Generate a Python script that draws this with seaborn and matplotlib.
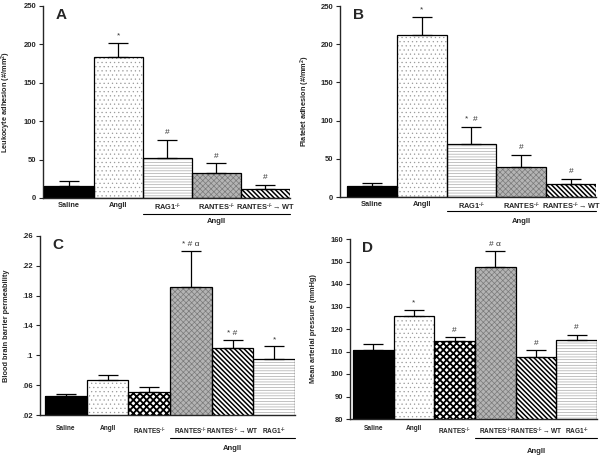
import matplotlib
matplotlib.use("Agg")
import matplotlib.pyplot as plt
import seaborn as sns
import numpy as np

KO = r"$^{\text{-/-}}$"

# Panel A / B categories
groups_ab = ["Saline", "AngII", "RAG1" + KO, "RANTES" + KO, "RANTES" + KO + r"$\rightarrow$WT"]
leuko_mean = [15, 183, 52, 33, 12]
leuko_sem = [7, 19, 24, 12, 5]
leuko_marks = ["", "*", "#", "#", "#"]
platelet_mean = [15, 212, 69, 39, 17]
platelet_sem = [3, 23, 23, 16, 7]
platelet_marks = ["", "*", "*  #", "#", "#"]

# Panel C / D categories
groups_cd = ["Saline", "AngII", "RANTES" + KO, "RANTES" + KO, "RANTES" + KO + r"$\rightarrow$WT", "RAG1" + KO]
bbb_mean = [0.045, 0.067, 0.051, 0.192, 0.110, 0.095]
bbb_sem = [0.003, 0.006, 0.007, 0.048, 0.011, 0.017]
bbb_marks = ["", "", "", "* # \u03b1", "* #", "*"]
map_mean = [110.5, 126, 114.5, 147.5, 107.5, 115]
map_sem = [3, 2.5, 2, 7, 3, 2.5]
map_marks = ["", "*", "#", "# \u03b1", "#", "#"]

# bar styles: (facecolor, hatch, hatch colour, hatch linewidth)
STYLE = {
    "saline": ("black", "", "black", 0.5),
    "angii": ("white", "....", "#9a9a9a", 0.4),
    "rag1": ("white", "------", "#a0a0a0", 0.45),
    "rantes_ang": ("#b4b4b4", "xxxxxx", "#7a7a7a", 0.5),
    "rantes": ("white", "xxxxx", "black", 1.3),
    "wt": ("white", "\\" * 7, "black", 1.1),
}
styles_ab = ["saline", "angii", "rag1", "rantes_ang", "wt"]
styles_cd = ["saline", "angii", "rantes", "rantes_ang", "wt", "rag1"]

sns.set_style("ticks")
plt.rcParams["font.family"] = ["Liberation Sans", "DejaVu Sans"]
plt.rcParams["font.weight"] = "bold"
plt.rcParams["mathtext.fontset"] = "custom"
plt.rcParams["mathtext.rm"] = "Liberation Sans:bold"
plt.rcParams["mathtext.bf"] = "Liberation Sans:bold"
plt.rcParams["mathtext.it"] = "Liberation Sans:bold"
plt.rcParams["mathtext.default"] = "rm"
plt.rcParams["hatch.linewidth"] = 0.6

W, H = 605, 458
fig = plt.figure(figsize=(W / 100, H / 100), dpi=100)


def px_axes(left, top, right, bottom):
    return fig.add_axes([left / W, 1 - bottom / H, (right - left) / W, (bottom - top) / H])


def draw_panel(ax, groups, means, sems, marks, styles, ylim, yticks, yticklabels,
               ylabel, letter, xlim, mark_gap, ang_from, ylab_x, xpad, line_y, ang_y, xfs):
    n = len(groups)
    pos = np.arange(n)
    sns.barplot(x=pos, y=means, ax=ax, width=1.0, color="white", native_scale=True)
    for patch, key in zip(ax.patches, styles):
        fc, hatch, hc, hlw = STYLE[key]
        patch.set_facecolor(fc)
        patch.set_hatch(hatch)
        patch.set_edgecolor(hc)
        patch.set_linewidth(0)
        if hasattr(patch, "set_hatch_linewidth"):
            patch.set_hatch_linewidth(hlw)
    ax.bar(pos, means, width=1.0, fill=False, edgecolor="black", linewidth=0.9, zorder=3)
    ax.errorbar(pos, means, yerr=[np.zeros(n), sems], fmt="none", ecolor="black",
                elinewidth=0.9, capsize=7, capthick=0.9, zorder=4)
    for x, m, s, t in zip(pos, means, sems, marks):
        if t:
            ax.text(x, m + s + mark_gap, t, ha="center", va="bottom", fontsize=6,
                    fontweight="normal", color="#333333")
    ax.set_xlim(*xlim)
    ax.set_ylim(*ylim)
    ax.set_yticks(yticks)
    ax.set_yticklabels(yticklabels, fontsize=5.5, fontweight="bold")
    ax.set_xticks(pos)
    ax.set_xticklabels(groups, fontsize=xfs, fontweight="bold")
    ax.tick_params(axis="x", length=0, pad=xpad)
    ax.tick_params(axis="y", length=3, width=0.8, pad=2)
    for side in ["top", "right"]:
        ax.spines[side].set_visible(False)
    for side in ["left", "bottom"]:
        ax.spines[side].set_linewidth(1.0)
    ax.spines["bottom"].set_bounds(xlim[0], n - 0.5)
    ax.set_ylabel(ylabel, fontsize=5.3, fontweight="bold")
    ax.yaxis.set_label_coords(ylab_x, 0.5)
    ax.text(0.05, 0.99, letter, transform=ax.transAxes, fontsize=11, fontweight="bold",
            ha="left", va="top")
    # group bracket for the AngII-treated bars
    ax.plot([ang_from - 0.5, n - 0.5], [-line_y, -line_y], color="black", linewidth=0.8,
            transform=ax.get_xaxis_transform(), clip_on=False)
    ax.text((ang_from - 0.5 + n - 0.5) / 2, -ang_y, "AngII", ha="center", va="top",
            fontsize=5.5, fontweight="bold", transform=ax.get_xaxis_transform())


axA = px_axes(43, 6, 290, 198)
draw_panel(axA, groups_ab, leuko_mean, leuko_sem, leuko_marks, styles_ab,
           (0, 250), [0, 50, 100, 150, 200, 250], ["0", "50", "100", "150", "200", "250"],
           r"Leukocyte adhesion (#/mm$^{2}$)", "A", (-0.53, 4.5), 5, 2, -0.12,
           3.0, 0.083, 0.104, 5.3)

axB = px_axes(340, 6, 596, 197)
draw_panel(axB, groups_ab, platelet_mean, platelet_sem, platelet_marks, styles_ab,
           (0, 250), [0, 50, 100, 150, 200, 250], ["0", "50", "100", "150", "200", "250"],
           r"Platelet adhesion (#/mm$^{2}$)", "B", (-0.64, 4.5), 5, 2, -0.11,
           3.0, 0.073, 0.11, 5.3)

axC = px_axes(40, 236, 295, 415)
draw_panel(axC, groups_cd, bbb_mean, bbb_sem, bbb_marks, styles_cd,
           (0.02, 0.26), [0.02, 0.06, 0.1, 0.14, 0.18, 0.22, 0.26],
           [".02", ".06", ".1", ".14", ".18", ".22", ".26"],
           "Blood brain barrier permeability", "C", (-0.62, 5.5), 0.004, 3, -0.118,
           7.5, 0.128, 0.168, 4.7)

axD = px_axes(350, 239, 597, 419)
draw_panel(axD, groups_cd, map_mean, map_sem, map_marks, styles_cd,
           (80, 160), [80, 90, 100, 110, 120, 130, 140, 150, 160],
           ["80", "90", "100", "110", "120", "130", "140", "150", "160"],
           "Mean arterial pressure (mmHg)", "D", (-0.57, 5.5), 1.5, 3, -0.134,
           4.5, 0.106, 0.16, 4.7)

fig.savefig("out.png", dpi=100)
